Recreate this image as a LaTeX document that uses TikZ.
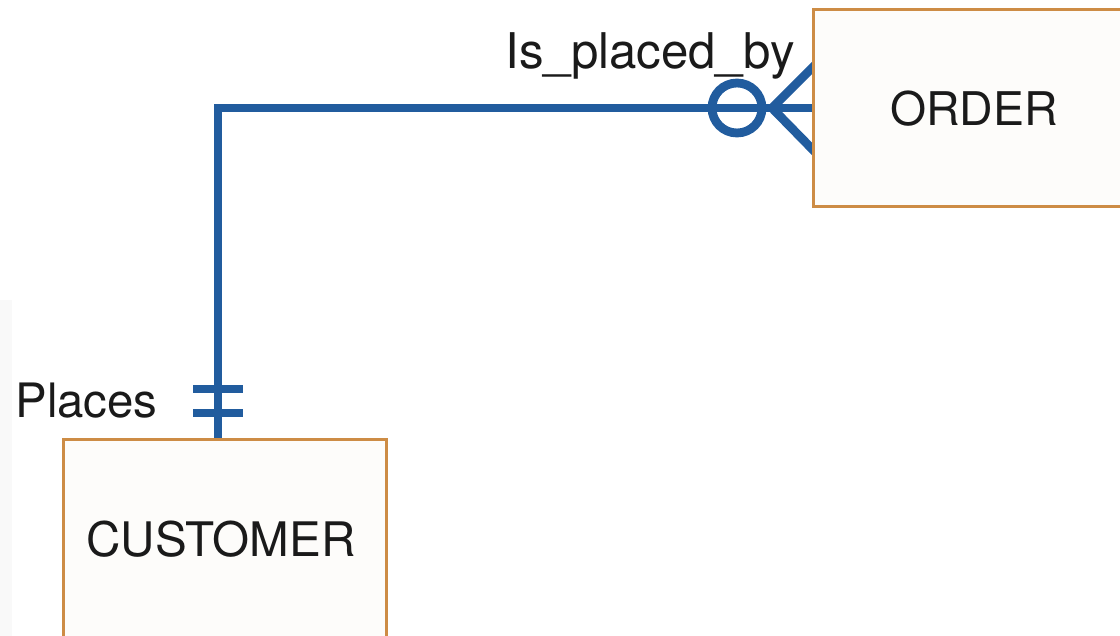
\documentclass[tikz,border=0pt]{standalone}
\usepackage{fontspec}
\setmainfont{TeX Gyre Heros}
\usetikzlibrary{backgrounds,calc}
\definecolor{relblue}{HTML}{215C9E}
\definecolor{boxedge}{HTML}{CD8C45}
\definecolor{boxfill}{HTML}{FDFCFA}
\definecolor{txt}{HTML}{1A1A1A}
\tikzset{
  entity/.style={draw=boxedge, fill=boxfill, line width=1.5pt, inner sep=0pt, text=txt},
  rel/.style={draw=relblue, line width=4.4pt},
  lbl/.style={text=txt, inner sep=0pt, anchor=base west}
}
\begin{document}
\begin{tikzpicture}[x=0.5pt, y=-0.5pt]
\useasboundingbox (0,0) rectangle (1120,636);
\clip (0,0) rectangle (1120,636);
\fill[gray!5] (0,300) rectangle (12,636);
\node[entity, minimum width=161pt, minimum height=98.5pt, font=\fontsize{23.2}{28}\selectfont] (order) at (974,108.5) {ORDER};
\node[entity, minimum width=161.5pt, minimum height=99pt, font=\fontsize{23.8}{28}\selectfont] (cust) at (224.5,539) {\hspace*{-3.5pt}CUSTOMER};
\node[lbl, font=\fontsize{24.6}{30}\selectfont] (isplaced) at (505,69) {Is\_placed\_by};
\node[lbl, font=\fontsize{23.7}{30}\selectfont] (places) at (15,417) {Places};
\coordinate (corner) at (218,108);
\coordinate (apex) at (772,108);
\coordinate (bar1) at (218,389);
\coordinate (bar2) at (218,413);
\begin{scope}[on background layer]
  \draw[rel] (cust.north -| corner) -- (corner) -- (order.west |- corner);
  \draw[rel] (apex) -- ($(order.west)+(6,-46)$);
  \draw[rel] (apex) -- ($(order.west)+(6,46)$);
\end{scope}
\draw[rel] (737,108) circle[radius=12.5pt];
\draw[rel] ($(bar1)+(-25,0)$) -- ($(bar1)+(25,0)$);
\draw[rel] ($(bar2)+(-25,0)$) -- ($(bar2)+(25,0)$);
\end{tikzpicture}
\end{document}
